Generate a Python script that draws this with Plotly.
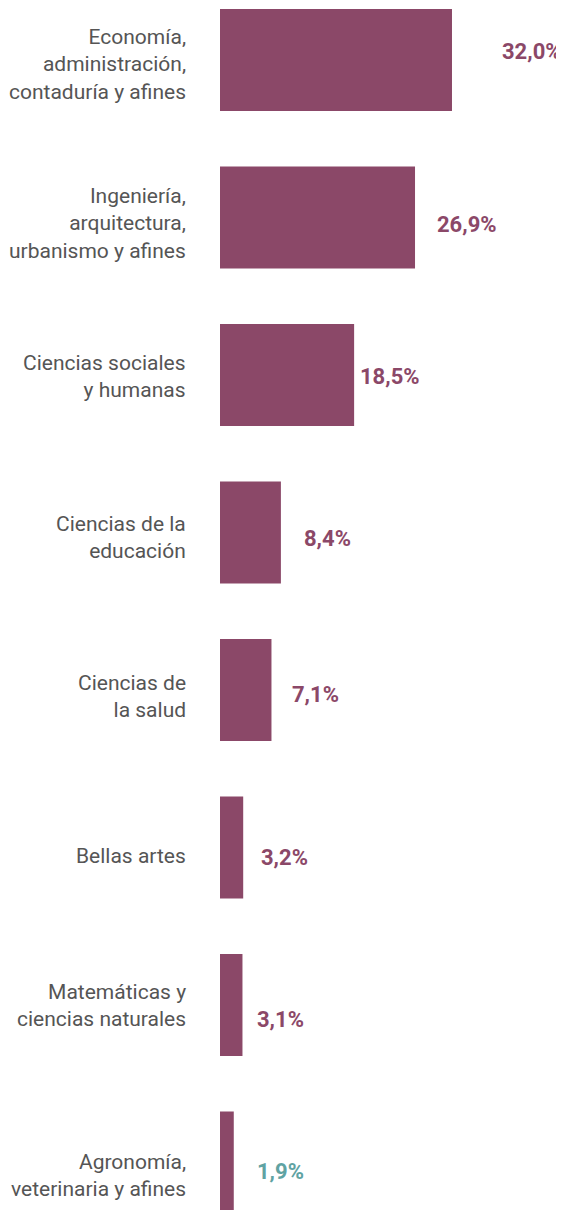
import plotly.graph_objects as go

categories = [
    "Economía,<br>administración,<br>contaduría y afines",
    "Ingeniería,<br>arquitectura,<br>urbanismo y afines",
    "Ciencias sociales<br>y humanas",
    "Ciencias de la<br>educación",
    "Ciencias de<br>la salud",
    "Bellas artes",
    "Matemáticas y<br>ciencias naturales",
    "Agronomía,<br>veterinaria y afines",
]
values = [32.0, 26.9, 18.5, 8.4, 7.1, 3.2, 3.1, 1.9]
value_labels = ["32,0%", "26,9%", "18,5%", "8,4%", "7,1%", "3,2%", "3,1%", "1,9%"]

# style-only offsets (pixels)
label_xshift = [48, 20, 4, 21, 19, 16, 13, 21]
label_yshift = [8, -7, -2, -6, -5, -10, -15, -9]
cat_yshift = [-5, -6, -2, -5, -7, -9, -0.5, -13]
label_colors = ["#8B4868"] * 7 + ["#5FA3A3"]

BAR = "#8B4868"

fig = go.Figure(
    go.Bar(
        x=values,
        y=list(range(len(categories))),
        orientation="h",
        marker=dict(color=BAR, line=dict(width=0)),
        hoverinfo="skip",
    )
)

for i, (v, lab, xs, ys, c) in enumerate(zip(values, value_labels, label_xshift, label_yshift, label_colors)):
    fig.add_annotation(
        x=v, y=i, text=f"<b>{lab}</b>", showarrow=False,
        xanchor="left", yanchor="middle", xshift=xs, yshift=ys,
        font=dict(family="Roboto", size=22, color=c),
    )

for i, (cat, ys) in enumerate(zip(categories, cat_yshift)):
    fig.add_annotation(
        x=0, y=i, text=cat, showarrow=False, align="right",
        xanchor="right", yanchor="middle", xshift=-32, yshift=ys,
        font=dict(family="Roboto", size=21, color="#555555"),
    )

# page body has an 8px default margin, so the figure is sized to fill the rest
fig.update_layout(
    width=556, height=1202,
    margin=dict(l=212, r=0, t=0, b=0, pad=0, autoexpand=False),
    paper_bgcolor="white", plot_bgcolor="white",
    bargap=0.353,
    showlegend=False,
    font=dict(family="Roboto"),
)
fig.update_xaxes(range=[0, 47.45], visible=False, fixedrange=True, automargin=False)
fig.update_yaxes(
    range=[7.302, -0.330], visible=False,
    automargin=False, fixedrange=True,
)

fig.write_html("out.html", config={"displayModeBar": False})
